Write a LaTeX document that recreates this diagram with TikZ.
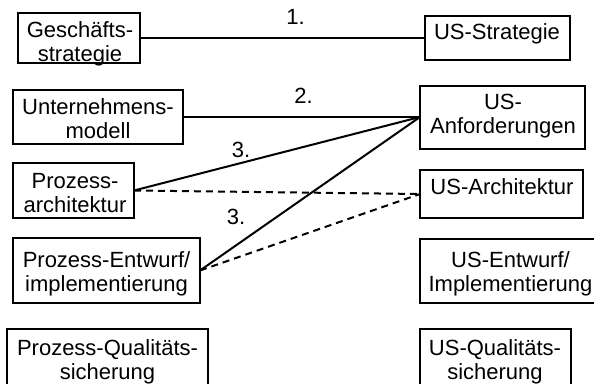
\documentclass[tikz,border=0pt]{standalone}
\usepackage{fontspec}
\setmainfont{Liberation Sans}
\begin{document}
\begin{tikzpicture}[x=1pt,y=-1pt,
  box/.style={draw, line width=2pt, inner sep=0pt, outer sep=0pt, rectangle},
  txt/.style={inner sep=0pt, align=center, font=\fontsize{22}{24}\selectfont},
  lab/.style={inner sep=0pt, font=\fontsize{22}{24}\selectfont},
  link/.style={line width=2pt},
  dlink/.style={line width=2pt, dash pattern=on 7pt off 5pt}]
\useasboundingbox (0,0) rectangle (594,383);
% boxes
\node[box, minimum width=122pt, minimum height=50pt] (gs)  at (79,38) {};
\node[box, minimum width=145pt, minimum height=44pt] (us)  at (497.5,38) {};
\node[box, minimum width=170pt, minimum height=54pt] (um)  at (98,117) {};
\node[box, minimum width=165pt, minimum height=63pt] (ua)  at (502.5,117) {};
\node[box, minimum width=121pt, minimum height=55pt] (pa)  at (73.5,190.5) {};
\node[box, minimum width=163pt, minimum height=48pt] (uar) at (501.5,194) {};
\node[box, minimum width=187pt, minimum height=65pt] (pe)  at (106.5,270.5) {};
\node[box, minimum width=180pt, minimum height=64pt] (ue)  at (510,271) {};
\node[box, minimum width=201pt, minimum height=71pt] (pq)  at (107.5,364.5) {};
\node[box, minimum width=151pt, minimum height=71pt] (uq)  at (495.5,364.5) {};
% texts
\node[txt] (gs-t)  at (80,44.3)   {Geschäfts-\\strategie};
\node[txt] (us-t)  at (497,34.3)  {US-Strategie};
\node[txt] (um-t)  at (98,119)    {Unternehmens-\\modell};
\node[txt] (ua-t)  at (503,116)   {US-\\Anforderungen};
\node[txt] (pa-t)  at (75,193.5)  {Prozess-\\architektur};
\node[txt] (uar-t) at (502,187)   {US-Architektur};
\node[txt] (pe-t)  at (106.5,274) {Prozess-Entwurf/\\implementierung};
\node[txt] (ue-t)  at (510.5,274) {US-Entwurf/\\Implementierung};
\node[txt] (pq-t)  at (107.5,362) {Prozess-Qualitäts-\\sicherung};
\node[txt] (uq-t)  at (495,362)   {US-Qualitäts-\\sicherung};
% connectors
\draw[link] (gs.east) -- (us.west);
\draw[link] (um.east) -- (ua.west);
\draw[link] (pa.east) -- (ua.west);
\draw[link] (pe.east) -- (ua.west);
\draw[dlink] (pa.east) -- (uar.west);
\draw[dlink] (pe.east) -- (uar.west);
% labels
\node[lab] (l1)  at (295.5,17)  {1.};
\node[lab] (l2)  at (303.5,95.5) {2.};
\node[lab] (l3a) at (241,150)   {3.};
\node[lab] (l3b) at (236,216.5) {3.};
\end{tikzpicture}
\end{document}
